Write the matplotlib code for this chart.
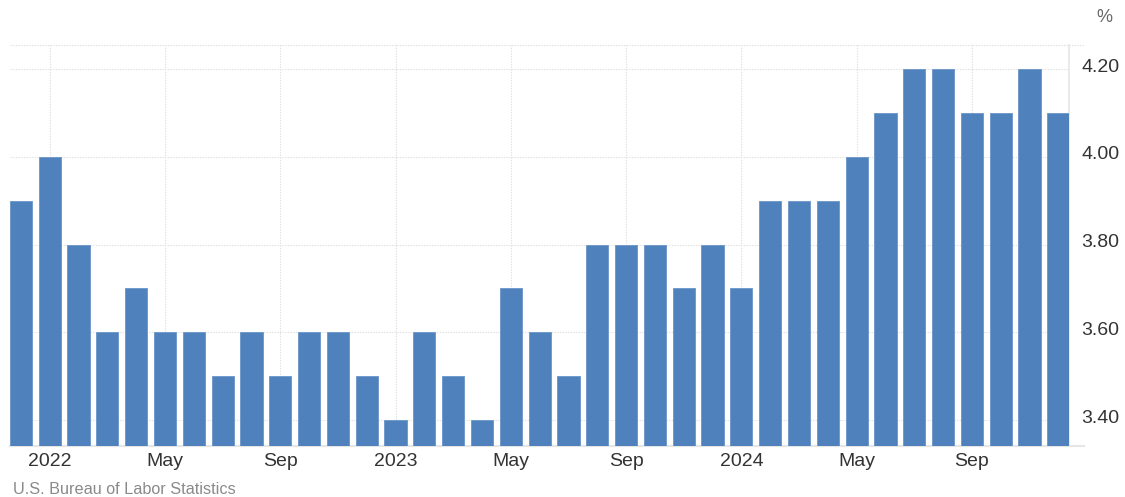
import matplotlib
matplotlib.use("Agg")
from matplotlib import pyplot as plt
from matplotlib.transforms import ScaledTranslation
import numpy as np

# monthly unemployment rate, Dec 2021 .. Dec 2024
months = [
    "2021-12",
    "2022-01", "2022-02", "2022-03", "2022-04", "2022-05", "2022-06",
    "2022-07", "2022-08", "2022-09", "2022-10", "2022-11", "2022-12",
    "2023-01", "2023-02", "2023-03", "2023-04", "2023-05", "2023-06",
    "2023-07", "2023-08", "2023-09", "2023-10", "2023-11", "2023-12",
    "2024-01", "2024-02", "2024-03", "2024-04", "2024-05", "2024-06",
    "2024-07", "2024-08", "2024-09", "2024-10", "2024-11", "2024-12",
]
rate = [
    3.9,
    4.0, 3.8, 3.6, 3.7, 3.6, 3.6, 3.5, 3.6, 3.5, 3.6, 3.6, 3.5,
    3.4, 3.6, 3.5, 3.4, 3.7, 3.6, 3.5, 3.8, 3.8, 3.8, 3.7, 3.8,
    3.7, 3.9, 3.9, 3.9, 4.0, 4.1, 4.2, 4.2, 4.1, 4.1, 4.2, 4.1,
]
tick_months = ["2022-01", "2022-05", "2022-09", "2023-01", "2023-05",
               "2023-09", "2024-01", "2024-05", "2024-09"]
tick_labels = ["2022", "May", "Sep", "2023", "May", "Sep", "2024", "May", "Sep"]
y_ticks = [3.4, 3.6, 3.8, 4.0, 4.2]

plt.rcParams["font.family"] = ["Liberation Sans", "DejaVu Sans"]

fig = plt.figure(figsize=(11.25, 4.97), dpi=100)
ax = fig.add_axes([10 / 1125, 1 - 446 / 497, 1059 / 1125, 401 / 497])

x = np.arange(len(months))
ax.bar(x, rate, width=0.77, color="#4f81bd", edgecolor="#6a95c9",
       linewidth=0.6, zorder=3)

ax.set_xlim(-0.38, len(months) - 1 + 0.37)
ax.set_ylim(3.341, 4.255)

xt = [months.index(m) for m in tick_months]
ax.set_xticks(xt)
ax.set_xticklabels(tick_labels, fontsize=14, color="#333333")
ax.set_yticks(y_ticks)
ax.set_yticklabels([f"{v:.2f}" for v in y_ticks], fontsize=14, color="#333333")
ax.yaxis.tick_right()
ax.tick_params(axis="x", length=0, pad=5)
ax.tick_params(axis="y", length=0, pad=9)
# labels sit a little above their gridline
shift = ScaledTranslation(0, 4 / 100, fig.dpi_scale_trans)
for lab in ax.get_yticklabels():
    lab.set_transform(lab.get_transform() + shift)

ax.grid(True, color="#e0e0e0", linestyle=(0, (1.2, 1.2)), linewidth=0.8, zorder=0)

for s in ["left", "top"]:
    ax.spines[s].set_visible(False)
ax.spines["right"].set_color("#e6e6e6")
ax.spines["right"].set_linewidth(1.2)
ax.spines["bottom"].set_color("#e6e6e6")
ax.spines["bottom"].set_linewidth(1.5)

# top dotted border and base line, running a bit past the axis
ax.plot([0, 1.014], [1, 1], transform=ax.transAxes, color="#e0e0e0",
        linestyle=(0, (1.2, 1.2)), linewidth=0.8, clip_on=False)
ax.plot([0, 1.014], [0, 0], transform=ax.transAxes, color="#e6e6e6",
        linewidth=1.5, clip_on=False)

fig.text(1104 / 1125, 1 - 18 / 497, "%", fontsize=13, color="#666666",
         ha="center", va="center")
fig.text(13 / 1125, 1 - 489 / 497, "U.S. Bureau of Labor Statistics",
         fontsize=11.7, color="#8a8a8a", ha="left", va="center")

plt.savefig("out.png", dpi=100)
